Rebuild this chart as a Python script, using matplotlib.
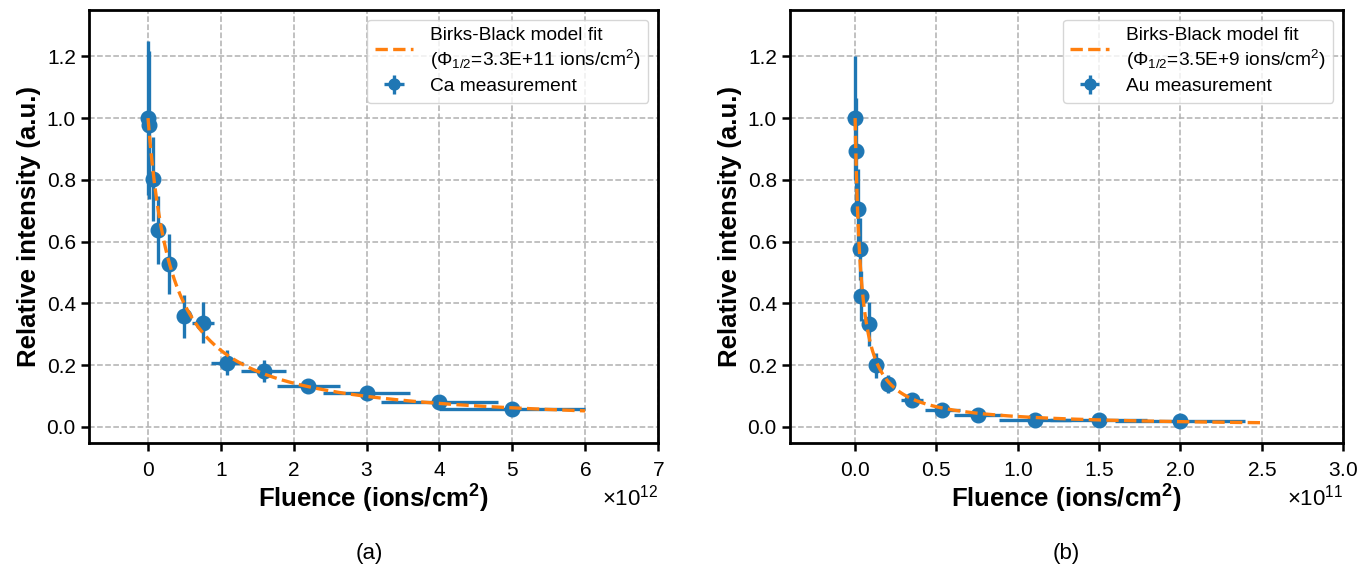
import numpy as np
import matplotlib
matplotlib.use("Agg")
import matplotlib.pyplot as plt

plt.rcParams['font.family'] = ['Liberation Sans', 'DejaVu Sans']
plt.rcParams['mathtext.fontset'] = 'custom'
plt.rcParams['mathtext.rm'] = 'Liberation Sans'
plt.rcParams['mathtext.it'] = 'Liberation Sans:italic'
plt.rcParams['mathtext.bf'] = 'Liberation Sans:bold'

# Ca measurement (fluence in ions/cm2)
ca_fluence = np.array([0.0, 0.02, 0.064, 0.14, 0.29, 0.50, 0.75, 1.09, 1.59, 2.2, 3.0, 4.0, 5.0]) * 1e12
ca_fluence_err = np.array([0.0, 0.004, 0.013, 0.028, 0.058, 0.10, 0.15, 0.22, 0.31, 0.43, 0.60, 0.80, 1.0]) * 1e12
ca_intensity = [1.0, 0.978, 0.803, 0.639, 0.527, 0.358, 0.337, 0.208, 0.182, 0.133, 0.110, 0.081, 0.059]
ca_intensity_err = [0.25, 0.24, 0.135, 0.11, 0.097, 0.07, 0.066, 0.04, 0.035, 0.02, 0.015, 0.01, 0.008]
ca_phi_half = 3.3e11

# Au measurement
au_fluence = np.array([0.002, 0.008, 0.018, 0.027, 0.039, 0.088, 0.13, 0.20, 0.35, 0.535, 0.755, 1.107, 1.497, 2.0]) * 1e11
au_fluence_err = np.array([0.0004, 0.0016, 0.0036, 0.0054, 0.008, 0.018, 0.026, 0.04, 0.07, 0.107, 0.15, 0.22, 0.30, 0.40]) * 1e11
au_intensity = [1.0, 0.895, 0.706, 0.576, 0.424, 0.333, 0.20, 0.139, 0.087, 0.054, 0.039, 0.023, 0.023, 0.018]
au_intensity_err = [0.2, 0.17, 0.13, 0.10, 0.08, 0.07, 0.04, 0.03, 0.02, 0.012, 0.01, 0.008, 0.006, 0.005]
au_phi_half = 3.5e9


def birks_black(phi, phi_half):
    return 1.0 / (1.0 + phi / phi_half)


def draw_panel(ax, x, xerr, y, yerr, phi_half, fit_max, fit_label, meas_label, xlim, xticks):
    phi = np.linspace(0, fit_max, 400)
    ax.plot(phi, birks_black(phi, phi_half), '--', color='#ff7f0e', lw=2.4, label=fit_label, zorder=3)
    ax.errorbar(x, y, xerr=xerr, yerr=yerr, fmt='o', color='#1f77b4', ms=10.5,
                elinewidth=2.4, label=meas_label, zorder=2)
    ax.set_xlim(*xlim)
    ax.set_ylim(-0.052, 1.35)
    ax.set_xticks(xticks)
    ax.set_yticks([0.0, 0.2, 0.4, 0.6, 0.8, 1.0, 1.2])
    ax.ticklabel_format(axis='x', style='sci', scilimits=(0, 0), useMathText=True)
    ax.xaxis.get_offset_text().set_fontsize(16)
    ax.grid(True, linestyle='--', color='#b0b0b0', lw=1.1)
    ax.tick_params(labelsize=15, width=1.8, length=6)
    ax.tick_params(axis='x', pad=7)
    for s in ax.spines.values():
        s.set_linewidth(2.0)
    ax.set_xlabel('Fluence (ions/cm$^\\mathbf{2}$)', fontsize=18.5, fontweight='bold', labelpad=2)
    ax.set_ylabel('Relative intensity (a.u.)', fontsize=18.5, fontweight='bold', labelpad=4)
    ax.legend(loc='upper right', fontsize=13.8, handlelength=2.0, markerscale=0.75,
              labelspacing=0.3, borderpad=0.4, handletextpad=0.9)


fig = plt.figure(figsize=(13.61, 5.69), dpi=100)
ax1 = fig.add_axes([0.0654, 0.2214, 0.4181, 0.761])
ax2 = fig.add_axes([0.5805, 0.2214, 0.4063, 0.761])

draw_panel(ax1, ca_fluence, ca_fluence_err, ca_intensity, ca_intensity_err, ca_phi_half, 6e12,
           'Birks-Black model fit\n($\\Phi_{1/2}$=3.3E+11 ions/cm$^2$)', 'Ca measurement',
           (-0.81e12, 7e12), np.arange(0, 8) * 1e12)
draw_panel(ax2, au_fluence, au_fluence_err, au_intensity, au_intensity_err, au_phi_half, 2.5e11,
           'Birks-Black model fit\n($\\Phi_{1/2}$=3.5E+9 ions/cm$^2$)', 'Au measurement',
           (-0.4e11, 3e11), np.arange(0, 3.01, 0.5) * 1e11)

fig.text(369 / 1361, 1 - 553 / 569, '(a)', ha='center', va='center', fontsize=16)
fig.text(1066 / 1361, 1 - 553 / 569, '(b)', ha='center', va='center', fontsize=16)

fig.savefig('out.png', dpi=100)
